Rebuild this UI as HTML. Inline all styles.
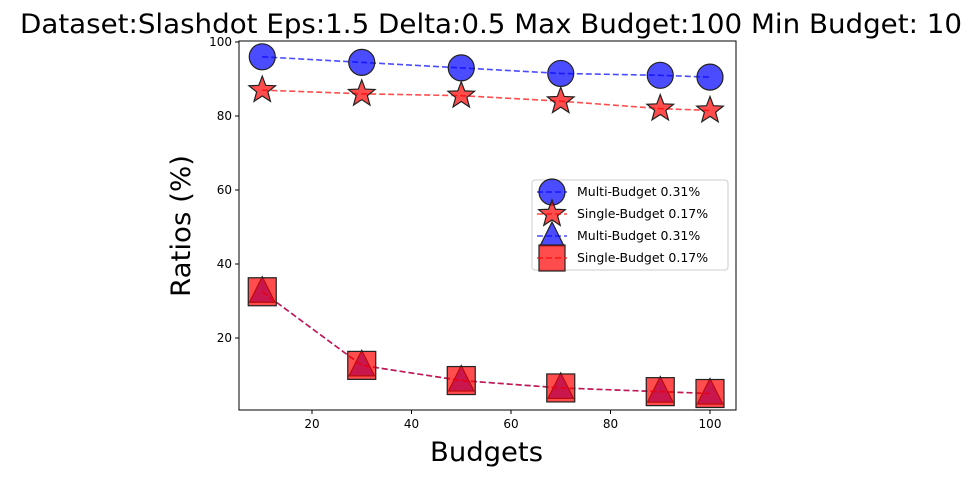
<!DOCTYPE html>
<html><head><meta charset="utf-8"><style>
body{margin:0;background:#fff;}
svg{display:block;font-family:"DejaVu Sans","Liberation Sans",sans-serif;}
</style></head><body>
<svg id="chart" width="973" height="477">
<text x="20" y="33" font-size="27" textLength="942" lengthAdjust="spacingAndGlyphs">Dataset:Slashdot Eps:1.5 Delta:0.5 Max Budget:100 Min Budget: 10</text>
<g id="plot"></g>
<text x="430" y="461" font-size="27" textLength="113" lengthAdjust="spacingAndGlyphs">Budgets</text>
<text transform="translate(190,297) rotate(-90)" font-size="27" textLength="142" lengthAdjust="spacingAndGlyphs">Ratios (%)</text>
</svg>
<script>
const budgets=[10,30,50,70,90,100];
const multiA=[96,94.5,93,91.5,91,90.5];
const singleA=[87,86,85.5,84,82,81.5];
const multiB=[32.5,12.6,8.5,6.5,5.5,5];
const singleB=[32.5,12.6,8.5,6.5,5.5,5];
const xTicks=[20,40,60,80,100];
const yTicks=[20,40,60,80,100];
const NS="http://www.w3.org/2000/svg";
const L=239,R=736,T=41,B=410;
const xs=v=>212.5+v*4.975;
const ys=v=>412-v*3.7;
const g=document.getElementById('plot');
function mk(t,a,p){const e=document.createElementNS(NS,t);for(const k in a)e.setAttribute(k,a[k]);(p||g).appendChild(e);return e;}
const frame=mk('rect',{x:L,y:T,width:R-L,height:B-T,fill:'none',stroke:'#000','stroke-width':1});


xTicks.forEach(v=>{const x=xs(v);
 const t=mk('line',{x1:x,x2:x,y1:B,y2:B+4,stroke:'#000'});
 
 
 const l=mk('text',{x:x,y:B+18,'text-anchor':'middle','font-size':12});l.textContent=v;
 
 });
yTicks.forEach(v=>{const y=ys(v);
 const t=mk('line',{x1:L-4,x2:L,y1:y,y2:y,stroke:'#000'});
 
 
 const l=mk('text',{x:L-7,y:y+4,'text-anchor':'end','font-size':12});l.textContent=v;
 
 });
function marker(kind,x,y,color,s){
 let e;
 const a={fill:color,'fill-opacity':0.7,stroke:'#222','stroke-width':1.2};
 if(kind==='circle'){e=mk('circle',Object.assign({cx:x,cy:y,r:s},a));}
 else if(kind==='square'){e=mk('rect',Object.assign({x:x-s,y:y-s,width:2*s,height:2*s},a));}
 else if(kind==='triangle'){e=mk('polygon',Object.assign({points:`${x},${y-s} ${x-s*0.85},${y+s*0.7} ${x+s*0.85},${y+s*0.7}`},a));}
 else {let p=[];for(let i=0;i<10;i++){const r=i%2?s*0.42:s;const an=-Math.PI/2+i*Math.PI/5;p.push((x+r*Math.cos(an))+','+(y+r*Math.sin(an)));}
  e=mk('polygon',Object.assign({points:p.join(' ')},a));}
 return e;}
function series(vals,kind,color,s,name){
 const pts=budgets.map((b,i)=>xs(b)+','+ys(vals[i])).join(' ');
 const ln=mk('polyline',{points:pts,fill:'none',stroke:color,'stroke-opacity':0.7,'stroke-width':1.6,'stroke-dasharray':'6,3'});
 
 
 budgets.forEach((b,i)=>{const m=marker(kind,xs(b),ys(vals[i]),color,s);
  
  });}
series(multiA,'circle','#0000ff',13,'multi-budget-circle');
series(singleA,'star','#ff0000',14,'single-budget-star');
series(multiB,'triangle','#0000ff',15,'multi-budget-triangle');
series(singleB,'square','#ff0000',14,'single-budget-square');
const lg=mk('g',{});


mk('rect',{x:532,y:180,width:196,height:90,rx:3,fill:'#fff','fill-opacity':0.8,stroke:'#ccc'},lg);
const items=[['circle','#0000ff','Multi-Budget 0.31%',13],['star','#ff0000','Single-Budget 0.17%',14],['triangle','#0000ff','Multi-Budget 0.31%',14],['square','#ff0000','Single-Budget 0.17%',13]];
items.forEach((it,i)=>{const y=192+i*22;
 const le=mk('g',{},lg);
 
 
 const m=marker(it[0],552,y,it[1],it[3]);le.appendChild(m);
 mk('line',{x1:537,x2:567,y1:y,y2:y,stroke:it[1],'stroke-opacity':0.7,'stroke-width':1.6,'stroke-dasharray':'6,3'},le);
 const t=mk('text',{x:577,y:y+4,'font-size':12.5},le);t.textContent=it[2];});
</script>
</body></html>
